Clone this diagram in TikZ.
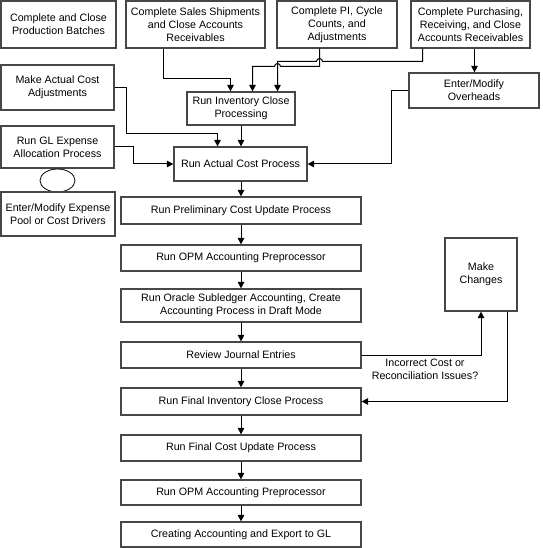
\documentclass[tikz,border=0pt]{standalone}
\usepackage{fontspec}
\setmainfont{Liberation Sans}
\usetikzlibrary{arrows.meta,shapes.geometric}
\newcommand\fsz{\fontsize{10.7pt}{12.8pt}\selectfont}
\tikzset{
  box/.style={draw=black!72, line width=1.2pt, fill=white, align=center, font=\fsz, inner sep=1pt},
  arr/.style={draw=black, line width=1pt, -{Triangle[width=6.5pt,length=6.5pt]}},
  lbl/.style={align=center, font=\fsz, inner sep=0pt}
}
\begin{document}
\begin{tikzpicture}[x=1pt,y=-1pt]
\useasboundingbox (0,0) rectangle (542,548);
% top row
\node[box, minimum width=115, minimum height=47] (batches) at (58.5,24.5) {Complete and Close\\Production Batches};
\node[box, minimum width=139, minimum height=47] (sales) at (195.5,24.5) {Complete Sales Shipments\\and Close Accounts\\Receivables};
\node[box, minimum width=120, minimum height=47] (pi) at (337,24.5) {Complete PI, Cycle\\Counts, and\\Adjustments};
\node[box, minimum width=119, minimum height=47] (purch) at (470.5,24.5) {Complete Purchasing,\\Receiving, and Close\\Accounts Receivables};
% second tier
\node[box, minimum width=113, minimum height=45] (mac) at (57.5,87.5) {Make Actual Cost\\Adjustments};
\node[box, minimum width=108, minimum height=33] (ric) at (241,108.5) {Run Inventory Close\\Processing};
\node[box, minimum width=130, minimum height=35] (ovh) at (474,90.5) {Enter/Modify\\Overheads};
\node[box, minimum width=113, minimum height=42] (gl) at (57.5,147) {Run GL Expense\\Allocation Process};
\node[draw=black, line width=0.8pt, ellipse, minimum width=35, minimum height=23, inner sep=0pt] (ell) at (57.5,180.5) {};
\node[box, minimum width=114, minimum height=44] (pool) at (58,214) {Enter/Modify Expense\\Pool or Cost Drivers};
\node[box, minimum width=133, minimum height=34] (rac) at (240.5,164) {Run Actual Cost Process};
% main column
\node[box, minimum width=240, minimum height=27] (prelim) at (241,210.5) {Run Preliminary Cost Update Process};
\node[box, minimum width=240, minimum height=26] (opma) at (241,258) {Run OPM Accounting Preprocessor};
\node[box, minimum width=240, minimum height=33] (oracle) at (241,305.5) {Run Oracle Subledger Accounting, Create\\Accounting Process in Draft Mode};
\node[box, minimum width=240, minimum height=26] (review) at (241,355) {Review Journal Entries};
\node[box, minimum width=240, minimum height=27] (finv) at (241,401.5) {Run Final Inventory Close Process};
\node[box, minimum width=240, minimum height=26] (fcost) at (241,448) {Run Final Cost Update Process};
\node[box, minimum width=240, minimum height=25] (opmb) at (241,492.5) {Run OPM Accounting Preprocessor};
\node[box, minimum width=240, minimum height=25] (create) at (241,534.5) {Creating Accounting and Export to GL};
\node[box, minimum width=72, minimum height=73] (mch) at (481,274.5) {Make\\Changes};
\node[lbl] (issue) at (425,369.5) {Incorrect Cost or\\Reconciliation Issues?};
% connectors into Run Inventory Close
\draw[arr] ([xshift=-32pt]sales.south) |- (230.5,78.5) -- ([xshift=-10.5pt]ric.north);
\draw[arr] ([xshift=-17.5pt]pi.south) -- (319.5,66.5) -- (280.5,66.5) arc[start angle=0,end angle=180,radius=3pt] -- (252.5,66.5) -- ([xshift=11.5pt]ric.north);
\draw[arr] ([xshift=-48pt]purch.south) -- (422.5,61.5) -- (322.5,61.5) arc[start angle=0,end angle=180,radius=3pt] -- (277.5,61.5) -- ([xshift=36.5pt]ric.north);
\draw[arr] ([xshift=4pt]purch.south) -- ([xshift=0.5pt]ovh.north);
% into Run Actual Cost
\draw[arr] (mac.east) -| (126.5,133.5) -| ([xshift=-23pt]rac.north);
\draw[arr] (gl.east) -| (133.5,164) -- (rac.west);
\draw[arr] (ric.south) -- (ric.south |- rac.north);
\draw[arr] (ovh.west) -| (391.5,164) -- (rac.east);
% main chain
\draw[arr] (prelim.north |- rac.south) -- (prelim.north);
\draw[arr] (prelim.south) -- (opma.north);
\draw[arr] (opma.south) -- (oracle.north);
\draw[arr] (oracle.south) -- (review.north);
\draw[arr] (review.south) -- (finv.north);
\draw[arr] (finv.south) -- (fcost.north);
\draw[arr] (fcost.south) -- (opmb.north);
\draw[arr] (opmb.south) -- (create.north);
% loop
\draw[arr] (review.east) -| (mch.south);
\draw[arr] ([xshift=26pt]mch.south) |- (finv.east);
\end{tikzpicture}
\end{document}
